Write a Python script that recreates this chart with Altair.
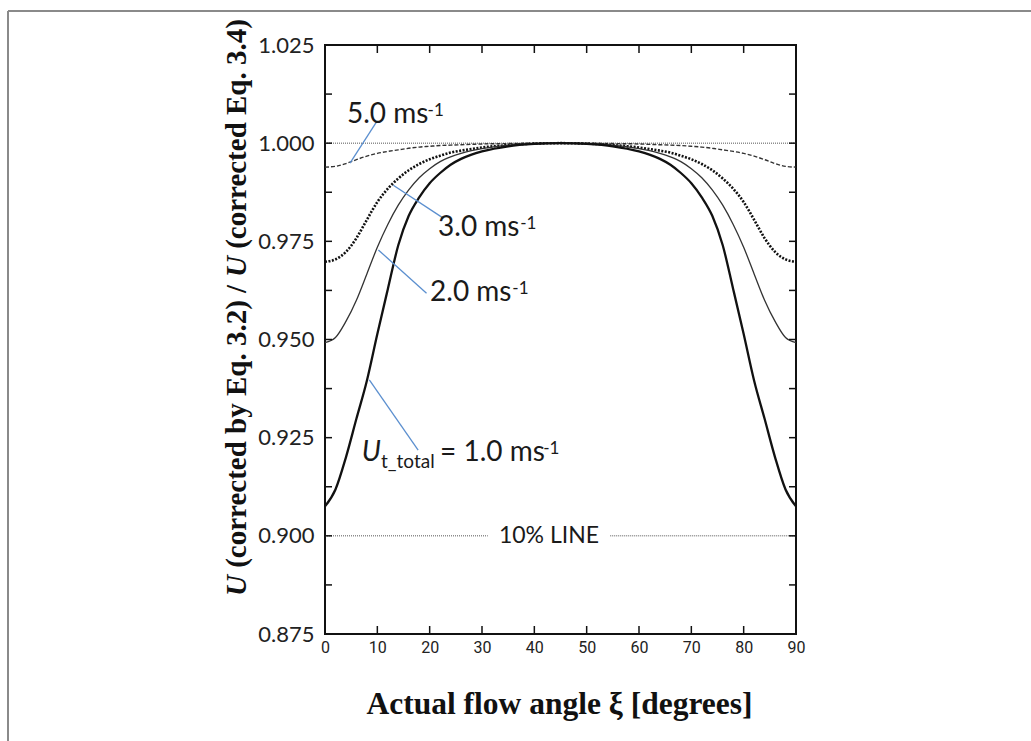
import altair as alt
import pandas as pd

# Flow angle grid (degrees)
XI = [0, 2, 4, 6, 8, 10, 12, 14, 16, 18, 20, 22, 24, 26, 28, 30, 35, 40, 45,
      50, 55, 60, 62, 64, 66, 68, 70, 72, 74, 76, 78, 80, 82, 84, 86, 88, 90]

# Velocity ratio U(Eq. 3.2) / U(Eq. 3.4) for each total speed
U_1 = [0.9075, 0.9118, 0.9200, 0.9298, 0.9395, 0.9514, 0.9628, 0.9740, 0.9815, 0.9862,
       0.9898, 0.9924, 0.9945, 0.9960, 0.9971, 0.9979, 0.9992, 0.9998, 1.0000,
       0.9998, 0.9992, 0.9979, 0.9971, 0.9960, 0.9945, 0.9924, 0.9898, 0.9862, 0.9815,
       0.9740, 0.9628, 0.9514, 0.9395, 0.9298, 0.9200, 0.9118, 0.9075]
U_2 = [0.9492, 0.9505, 0.9546, 0.9600, 0.9667, 0.9735, 0.9793, 0.9842, 0.9881, 0.9912,
       0.9935, 0.9953, 0.9965, 0.9974, 0.9981, 0.9986, 0.9995, 0.9999, 1.0000,
       0.9999, 0.9995, 0.9986, 0.9981, 0.9974, 0.9965, 0.9953, 0.9935, 0.9912, 0.9881,
       0.9842, 0.9793, 0.9735, 0.9667, 0.9600, 0.9546, 0.9505, 0.9492]
U_3 = [0.9698, 0.9704, 0.9723, 0.9758, 0.9805, 0.9850, 0.9884, 0.9910, 0.9931, 0.9947,
       0.9959, 0.9968, 0.9976, 0.9981, 0.9985, 0.9989, 0.9995, 0.9999, 1.0000,
       0.9999, 0.9995, 0.9989, 0.9985, 0.9981, 0.9976, 0.9968, 0.9959, 0.9947, 0.9931,
       0.9910, 0.9884, 0.9850, 0.9805, 0.9758, 0.9723, 0.9704, 0.9698]
U_5 = [0.9939, 0.9941, 0.9948, 0.9958, 0.9967, 0.9974, 0.9979, 0.9983, 0.9987, 0.9990,
       0.9992, 0.9994, 0.9995, 0.9996, 0.9997, 0.9998, 0.9999, 1.0000, 1.0000,
       1.0000, 0.9999, 0.9998, 0.9997, 0.9996, 0.9995, 0.9994, 0.9992, 0.9990, 0.9987,
       0.9983, 0.9979, 0.9974, 0.9967, 0.9958, 0.9948, 0.9941, 0.9939]

X_TICKS = [0, 10, 20, 30, 40, 50, 60, 70, 80, 90]
Y_LABELS = [0.875, 0.900, 0.925, 0.950, 0.975, 1.000, 1.025]
Y_TICKS = [0.8875, 0.900, 0.9125, 0.925, 0.9375, 0.950, 0.9625, 0.975, 0.9875,
           1.000, 1.0125]
X_INNER_TICKS = [10, 20, 30, 40, 50, 60, 70, 80]

# Speed labels: main text, superscript "-1", and leader lines
LABEL_TEXT = ["5.0 ms", "3.0 ms", "2.0 ms", "= 1.0 ms"]
LABEL_X = [4.2, 21.6, 20.07, 21.98]
LABEL_Y = [1.00717, 0.97852, 0.96183, 0.92121]
SUP_X = [19.6, 37.3, 35.8, 41.7]
SUP_Y = [1.00819, 0.97954, 0.96285, 0.92223]
LEAD_X = [9.88, 22.6, 19.4, 17.8]
LEAD_Y = [1.0055, 0.9809, 0.9618, 0.9218]
LEAD_X2 = [4.78, 13.05, 10.2, 8.47]
LEAD_Y2 = [0.9949, 0.9893, 0.9728, 0.9397]

# 10 % reference line, split around its label
TEN_X = [0, 54.5]
TEN_X2 = [31.1, 90]
TEN_LEVEL = 0.900

W, H = 471, 589
SANS = "Lato"
SERIF = "Liberation Serif"
NARROW = "Liberation Sans Narrow, Roboto, sans-serif"
BLUE = "#5b8fcf"
TITLE_SIZE = 29

curves = pd.concat([
    pd.DataFrame({"xi": XI, "ratio": U_1, "speed": "1.0"}),
    pd.DataFrame({"xi": XI, "ratio": U_2, "speed": "2.0"}),
    pd.DataFrame({"xi": XI, "ratio": U_3, "speed": "3.0"}),
    pd.DataFrame({"xi": XI, "ratio": U_5, "speed": "5.0"}),
])
labels = pd.DataFrame({"x": LABEL_X, "y": LABEL_Y, "t": LABEL_TEXT})
sups = pd.DataFrame({"x": SUP_X, "y": SUP_Y, "t": ["-1"] * 4})
leads = pd.DataFrame({"x": LEAD_X, "y": LEAD_Y, "x2": LEAD_X2, "y2": LEAD_Y2})
ten = pd.DataFrame({"x": TEN_X, "x2": TEN_X2, "y": [TEN_LEVEL] * 2})
one = pd.DataFrame({"x": [0], "x2": [90], "y": [1.0]})
yt = pd.DataFrame({"v": Y_TICKS})
xt = pd.DataFrame({"v": X_INNER_TICKS})
dummy = pd.DataFrame({"a": [0]})

xs = alt.Scale(domain=[0, 90], nice=False, zero=False)
ys = alt.Scale(domain=[0.875, 1.025], nice=False, zero=False)

x_axis = alt.Axis(values=X_TICKS, labelFont=NARROW, labelFontSize=16, labelColor="#222",
                  ticks=False, domain=False, grid=False, labelPadding=5, title=None,
                  labelFlush=False, labelOverlap=False)
y_axis = alt.Axis(values=Y_LABELS, format=".3f", labelFont=SANS, labelFontSize=22,
                  labelColor="#222", ticks=False, domain=False, grid=False,
                  labelPadding=11, title=None, labelOverlap=False)


def X(f):
    return alt.X(f, type="quantitative", scale=xs, axis=x_axis)


def Y(f):
    return alt.Y(f, type="quantitative", scale=ys, axis=y_axis)


def curve(name, **kw):
    return alt.Chart(curves).transform_filter(alt.datum.speed == name).mark_line(
        interpolate="monotone", **kw).encode(x=X("xi"), y=Y("ratio"))


def note(text, x, y, align="left", **kw):
    return alt.Chart(dummy).transform_calculate(x=str(x), y=str(y)).mark_text(
        text=text, align=align, baseline="middle", color="#1a1a1a", **kw).encode(
        x=X("x"), y=Y("y"))


def ytitle(text, ypix, italic=False):
    kw = {"fontStyle": "italic"} if italic else {}
    return alt.Chart(dummy).mark_text(
        text=text, font=SERIF, fontSize=TITLE_SIZE, fontWeight="bold", angle=270,
        align="left", baseline="middle", color="#111", **kw).encode(
        x=alt.value(-88), y=alt.value(ypix))


# vertical title pieces, stacked bottom to top (Times metrics in em)
U_W = 0.722 * TITLE_SIZE
SP_W = 0.25 * TITLE_SIZE
SEG2_W = 10.276 * TITLE_SIZE
y_seg1 = 551
y_seg2 = y_seg1 - U_W - SP_W
y_seg3 = y_seg1 - U_W - SEG2_W
y_seg4 = y_seg3 - U_W - SP_W

layers = [
    # 1.000 and 10 % reference lines
    alt.Chart(one).mark_rule(color="#555", strokeWidth=1, strokeDash=[1, 1]).encode(
        x=X("x"), x2="x2:Q", y=Y("y")),
    alt.Chart(ten).mark_rule(color="#555", strokeWidth=1, strokeDash=[1, 1]).encode(
        x=X("x"), x2="x2:Q", y=Y("y")),
    curve("5.0", color="#333", strokeWidth=1.4, strokeDash=[4, 2]),
    curve("3.0", color="#111", strokeWidth=2.6, strokeDash=[2, 1.5]),
    curve("2.0", color="#333", strokeWidth=1.3),
    curve("1.0", color="#111", strokeWidth=2.3),
    # inward ticks on all four sides
    alt.Chart(yt).mark_rule(color="#111", strokeWidth=1.5).encode(
        y=Y("v"), x=alt.value(0), x2=alt.value(7)),
    alt.Chart(yt).mark_rule(color="#111", strokeWidth=1.5).encode(
        y=Y("v"), x=alt.value(W), x2=alt.value(W - 7)),
    alt.Chart(xt).mark_rule(color="#111", strokeWidth=1.5).encode(
        x=X("v"), y=alt.value(0), y2=alt.value(8)),
    alt.Chart(xt).mark_rule(color="#111", strokeWidth=1.5).encode(
        x=X("v"), y=alt.value(H), y2=alt.value(H - 8)),
    # leader lines and speed labels
    alt.Chart(leads).mark_rule(color=BLUE, strokeWidth=1.3).encode(
        x=X("x"), y=Y("y"), x2="x2:Q", y2="y2:Q"),
    alt.Chart(labels).mark_text(font=SANS, fontSize=28, align="left", baseline="middle",
                                color="#1a1a1a").encode(x=X("x"), y=Y("y"), text="t:N"),
    alt.Chart(sups).mark_text(font=SANS, fontSize=17, align="left", baseline="middle",
                              color="#1a1a1a").encode(x=X("x"), y=Y("y"), text="t:N"),
    note("U", 7.01, 0.92121, font=SANS, fontSize=28, fontStyle="italic"),
    note("t_total", 10.7, 0.91892, font=SANS, fontSize=19),
    note("10% LINE", 42.8, 0.9, align="center", font=SANS, fontSize=23),
    # axis titles
    alt.Chart(dummy).mark_text(text="Actual flow angle ξ [degrees]", font=SERIF,
                               fontSize=31.5, fontWeight="bold", align="center",
                               baseline="middle", color="#111").encode(
        x=alt.value(W / 2 - 1), y=alt.value(660)),
    ytitle("U", y_seg1, italic=True),
    ytitle("(corrected by Eq. 3.2) /", y_seg2),
    ytitle("U", y_seg3, italic=True),
    ytitle("(corrected Eq. 3.4)", y_seg4),
    # page frame
    alt.Chart(dummy).mark_rule(color="#8a8a8a", strokeWidth=2).encode(
        x=alt.value(-317), y=alt.value(-34), y2=alt.value(700)),
    alt.Chart(dummy).mark_rule(color="#8a8a8a", strokeWidth=2).encode(
        x=alt.value(-317), x2=alt.value(710), y=alt.value(-34)),
]

chart = alt.layer(*layers).properties(
    width=W, height=H,
    autosize=alt.AutoSizeParams(type="none"),
    padding={"left": 325, "top": 45, "right": 235, "bottom": 107},
    background="white",
).configure_view(stroke="#111", strokeWidth=2)

chart.save("out.html", embed_options={"renderer": "svg", "actions": False})
